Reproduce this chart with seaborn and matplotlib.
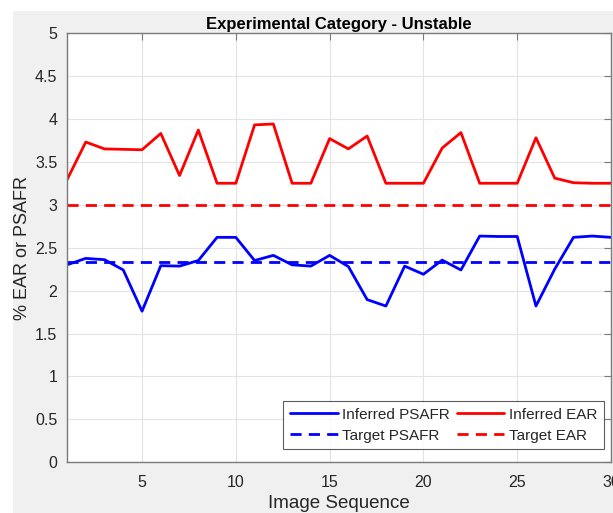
import numpy as np
import pandas as pd
import matplotlib
matplotlib.use("Agg")
import matplotlib.pyplot as plt
import seaborn as sns
from matplotlib.patches import Rectangle

sns.set_style("white")
plt.rcParams["font.family"] = ["Liberation Sans", "DejaVu Sans"]

# data
image_seq = list(range(1, 31))
inferred_psafr = [2.30, 2.375, 2.36, 2.24, 1.76, 2.29, 2.285, 2.35, 2.62, 2.62,
                  2.35, 2.41, 2.30, 2.285, 2.41, 2.28, 1.895, 1.82, 2.285, 2.19,
                  2.355, 2.24, 2.635, 2.63, 2.63, 1.82, 2.25, 2.62, 2.635, 2.62]
inferred_ear = [3.29, 3.73, 3.65, 3.645, 3.64, 3.83, 3.34, 3.87, 3.25, 3.25,
                3.93, 3.94, 3.25, 3.25, 3.77, 3.65, 3.80, 3.25, 3.25, 3.25,
                3.66, 3.84, 3.25, 3.25, 3.25, 3.78, 3.31, 3.256, 3.25, 3.25]
target_psafr = 2.336
target_ear = 3.0

df = pd.DataFrame({"seq": image_seq, "psafr": inferred_psafr, "ear": inferred_ear})

fig = plt.figure(figsize=(6.13, 5.13), dpi=100, facecolor="white")
fig.patches.append(Rectangle((13 / 613, 0), 1, (513 - 11) / 513,
                             transform=fig.transFigure, facecolor="#f0f0f0",
                             edgecolor="none", zorder=-10))
ax = fig.add_axes([67 / 613, (513 - 462.3) / 513, (611 - 67) / 613, (462.3 - 33) / 513])
ax.set_facecolor("white")

sns.lineplot(data=df, x="seq", y="psafr", ax=ax, color="#0000ff", lw=2, label="Inferred PSAFR")
sns.lineplot(x=[1, 30], y=[target_psafr, target_psafr], ax=ax, color="#0000ff", lw=2,
             dashes=False, label="Target PSAFR").lines[-1].set_dashes((4, 2.6))
sns.lineplot(data=df, x="seq", y="ear", ax=ax, color="#ff0000", lw=2, label="Inferred EAR")
sns.lineplot(x=[1, 30], y=[target_ear, target_ear], ax=ax, color="#ff0000", lw=2,
             dashes=False, label="Target EAR").lines[-1].set_dashes((4, 2.6))

ax.set_xlim(1, 30)
ax.set_ylim(0, 5)
ax.set_xticks([5, 10, 15, 20, 25, 30])
ax.set_yticks(np.arange(0, 5.01, 0.5))
ax.set_yticklabels(["0", "0.5", "1", "1.5", "2", "2.5", "3", "3.5", "4", "4.5", "5"])
ax.grid(True, color="#e3e3e3", lw=0.8)
ax.set_axisbelow(True)
for s in ax.spines.values():
    s.set_color("#7a7a7a")
    s.set_linewidth(1.0)
ax.tick_params(direction="in", length=5, width=0.8, color="#7a7a7a", labelsize=11.5,
               labelcolor="#262626", top=True, right=True)
ax.tick_params(axis="x", pad=9)
ax.tick_params(axis="y", pad=7)

ax.set_title("Experimental Category - Unstable", fontsize=12, fontweight="bold",
             color="black", pad=3)
ax.set_xlabel("Image Sequence", fontsize=13.5, color="#262626", labelpad=4)
ax.set_ylabel("% EAR or PSAFR", fontsize=13, color="#262626", labelpad=3)

h, l = ax.get_legend_handles_labels()
leg = ax.legend(h, l, ncol=2, loc="lower right", bbox_to_anchor=(0.987, 0.03),
                borderaxespad=0, fontsize=11, frameon=True, fancybox=False,
                handlelength=3.1, handletextpad=0.3, columnspacing=0.45,
                borderpad=0.45, labelspacing=0.45, edgecolor="#333333")
leg.get_frame().set_linewidth(0.8)

fig.savefig("out.png", dpi=100, facecolor=fig.get_facecolor())
